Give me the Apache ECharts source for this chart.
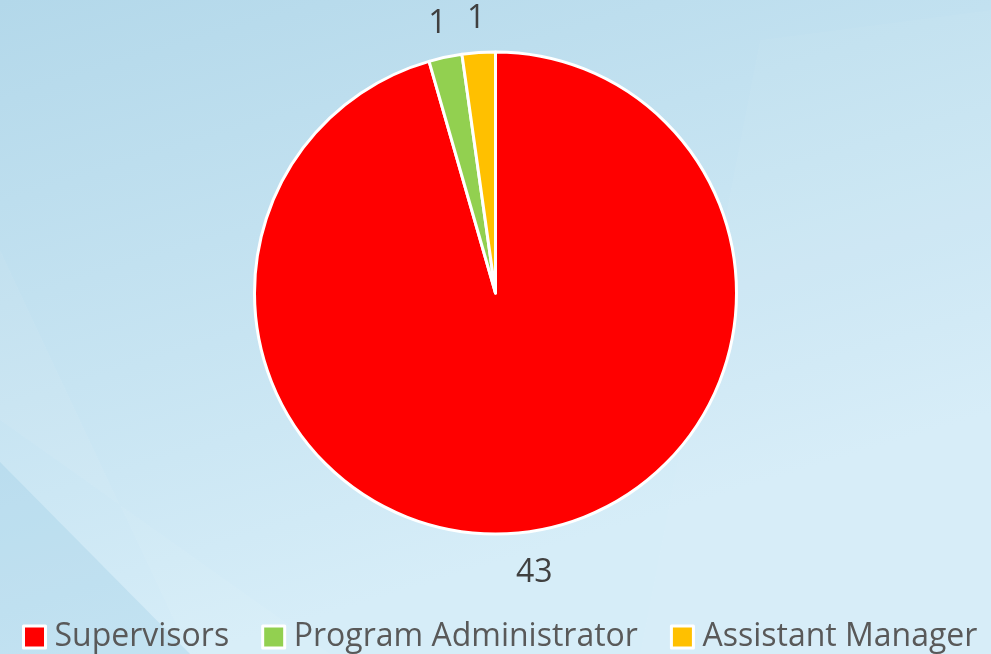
<!DOCTYPE html>
<html>
<head>
<meta charset="utf-8">
<style>
  html, body { margin: 0; padding: 0; }
  #chart { width: 991px; height: 654px; }
</style>
<script src="https://cdn.jsdelivr.net/npm/echarts@6/dist/echarts.min.js"></script>
</head>
<body>
<div id="chart"></div>
<script>
// Staff by role
const roles = ['Supervisors', 'Program Administrator', 'Assistant Manager'];
const counts = [43, 1, 1];
const roleColors = ['#FF0000', '#92D050', '#FFC000'];

const chart = echarts.init(document.getElementById('chart'));

const pieData = roles.map((name, i) => ({
  name: name,
  value: counts[i],
  itemStyle: { color: roleColors[i] }
}));

chart.setOption({
  backgroundColor: {
    type: 'linear', x: 0, y: 0, x2: 0.2, y2: 1,
    colorStops: [
      { offset: 0, color: '#b3d8ea' },
      { offset: 1, color: '#d6edf8' }
    ]
  },
  graphic: [
    // soft backdrop facets
    {
      type: 'polygon', silent: true, z: -10,
      shape: { points: [[0, 250], [190, 654], [330, 654], [0, 420]] },
      style: { fill: 'rgba(255,255,255,0.06)' }
    },
    {
      type: 'polygon', silent: true, z: -10,
      shape: { points: [[0, 462], [190, 654], [0, 654]] },
      style: { fill: 'rgba(140,195,222,0.25)' }
    },
    {
      type: 'polygon', silent: true, z: -10,
      shape: { points: [[760, 40], [991, 10], [991, 654], [640, 654]] },
      style: { fill: 'rgba(255,255,255,0.04)' }
    }
  ],
  legend: {
    data: roles,
    left: 17,
    top: 616,
    itemWidth: 22,
    itemHeight: 22,
    itemGap: 32,
    icon: 'rect',
    itemStyle: { borderColor: '#ffffff', borderWidth: 3 },
    textStyle: {
      fontFamily: 'Open Sans',
      fontSize: 32,
      color: '#595959',
      padding: [0, 0, 0, 4]
    }
  },
  series: [{
    type: 'pie',
    center: [495.5, 293],
    radius: 241,
    startAngle: 90,
    clockwise: true,
    animation: false,
    silent: true,
    avoidLabelOverlap: false,
    data: pieData,
    itemStyle: { borderColor: '#ffffff', borderWidth: 3 },
    label: {
      show: true,
      position: 'outside',
      formatter: '{c}',
      fontFamily: 'Open Sans',
      fontSize: 32,
      color: '#404040',
      distanceToLabelLine: 0
    },
    labelLine: { show: false, length: 38, length2: 0 },
    labelLayout: function () {
      return { align: 'center', verticalAlign: 'middle', dy: 4 };
    }
  }]
});
</script>
</body>
</html>
